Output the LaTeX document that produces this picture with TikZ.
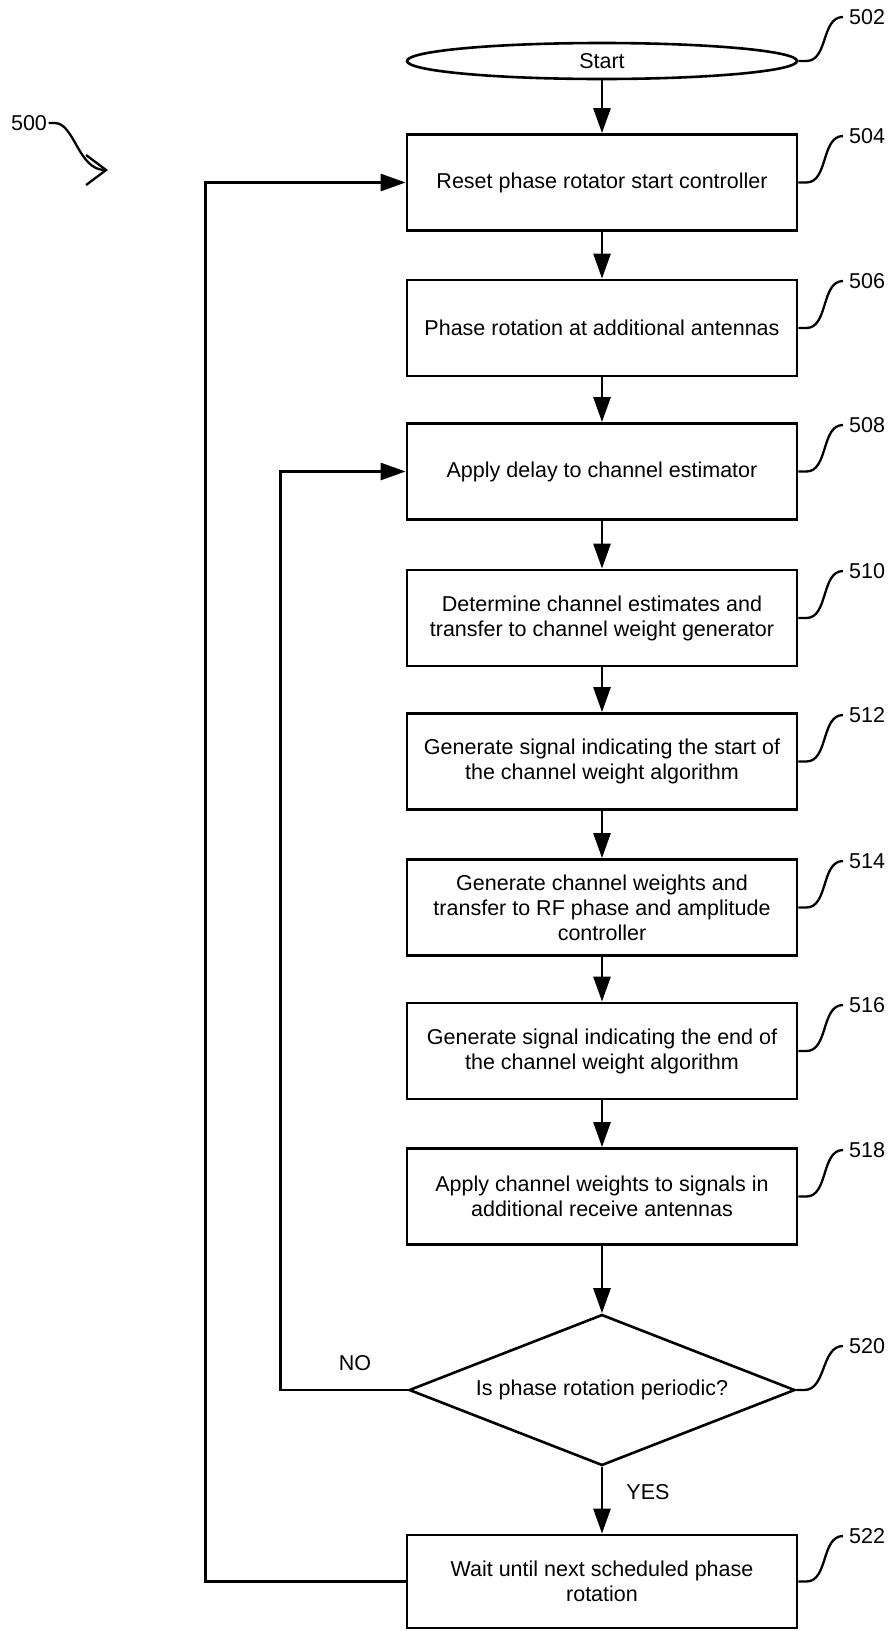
\documentclass[tikz,border=0pt]{standalone}
\usepackage{fontspec}
\setmainfont{Liberation Sans}
\usetikzlibrary{shapes.geometric,arrows.meta,calc}

\begin{document}
\begin{tikzpicture}[x=1pt,y=-1pt,
    every node/.style={font=\fontsize{21.5}{25}\selectfont},
    box/.style={draw,line width=2.8pt,minimum width=390pt,minimum height=96pt,align=center,inner sep=0pt},
    term/.style={draw,ellipse,line width=2.6pt,minimum width=390pt,minimum height=36pt,inner sep=0pt},
    decide/.style={draw,diamond,aspect=2.55,line width=2.6pt,minimum width=386pt,minimum height=151pt,inner sep=0pt},
    flow/.style={line width=2.7pt,-{Triangle[length=25pt,width=17pt]}},
    refnum/.style={anchor=west,inner xsep=6pt,inner ysep=0pt},
    squig/.style={line width=2.3pt}]
      \useasboundingbox (0,0) rectangle (890,1631);
      % steps
      \node[term] (start) at (602,61) {Start};
      \node[box] (reset) at (602,182.5) {Reset phase rotator start controller};
      \node[box] (rotate) at (602,328) {Phase rotation at additional antennas};
      \node[box] (delay) at (602,471.5) {Apply delay to channel estimator};
      \node[box] (estimate) at (602,618) {Determine channel estimates and\\transfer to channel weight generator};
      \node[box] (startsig) at (602,761.5) {Generate signal indicating the start of\\the channel weight algorithm};
      \node[box] (weights) at (602,907.5) {Generate channel weights and\\transfer to RF phase and amplitude\\controller};
      \node[box] (endsig) at (602,1051) {Generate signal indicating the end of\\the channel weight algorithm};
      \node[box] (apply) at (602,1196.5) {Apply channel weights to signals in\\additional receive antennas};
      \node[decide] (periodic) at (602,1390) {Is phase rotation periodic?};
      \node[box,minimum height=93pt] (wait) at (602,1581.5) {Wait until next scheduled phase\\rotation};
      % flow
      \draw[flow] (start.south) -- (reset.north);
      \draw[flow] (reset.south) -- (rotate.north);
      \draw[flow] (rotate.south) -- (delay.north);
      \draw[flow] (delay.south) -- (estimate.north);
      \draw[flow] (estimate.south) -- (startsig.north);
      \draw[flow] (startsig.south) -- (weights.north);
      \draw[flow] (weights.south) -- (endsig.north);
      \draw[flow] (endsig.south) -- (apply.north);
      \draw[flow] (apply.south) -- (periodic.north);
      \draw[flow] (periodic.south) -- (wait.north);
      \draw[flow] (periodic.west) -- ++(-127,0) |- (delay.west);
      \draw[flow] (wait.west) -- ++(-200,0) |- (reset.west);
      \node (no) at (355,1363) {NO};
      \node (yes) at (648,1492) {YES};
      % reference numerals
      \node[refnum] (l502) at (843,17) {502};
      \node[refnum] (l504) at (843,136) {504};
      \node[refnum] (l506) at (843,281) {506};
      \node[refnum] (l508) at (843,425) {508};
      \node[refnum] (l510) at (843,571) {510};
      \node[refnum] (l512) at (843,715) {512};
      \node[refnum] (l514) at (843,861) {514};
      \node[refnum] (l516) at (843,1005) {516};
      \node[refnum] (l518) at (843,1150) {518};
      \node[refnum] (l520) at (843,1346) {520};
      \node[refnum] (l522) at (843,1536) {522};
      \draw[squig] (start.east) -- ++(8,0) .. controls +(22,0) and +(-22,0) .. (l502.west);
      \draw[squig] (reset.east) -- ++(8,0) .. controls +(22,0) and +(-22,0) .. (l504.west);
      \draw[squig] (rotate.east) -- ++(8,0) .. controls +(22,0) and +(-22,0) .. (l506.west);
      \draw[squig] (delay.east) -- ++(8,0) .. controls +(22,0) and +(-22,0) .. (l508.west);
      \draw[squig] (estimate.east) -- ++(8,0) .. controls +(22,0) and +(-22,0) .. (l510.west);
      \draw[squig] (startsig.east) -- ++(8,0) .. controls +(22,0) and +(-22,0) .. (l512.west);
      \draw[squig] (weights.east) -- ++(8,0) .. controls +(22,0) and +(-22,0) .. (l514.west);
      \draw[squig] (endsig.east) -- ++(8,0) .. controls +(22,0) and +(-22,0) .. (l516.west);
      \draw[squig] (apply.east) -- ++(8,0) .. controls +(22,0) and +(-22,0) .. (l518.west);
      \draw[squig] (periodic.east) -- ++(8,0) .. controls +(22,0) and +(-22,0) .. (l520.west);
      \draw[squig] (wait.east) -- ++(8,0) .. controls +(22,0) and +(-22,0) .. (l522.west);
      % figure number
      \node[inner sep=1.5pt] (fig) at (29,123) {500};
      \coordinate (figtip) at (108,170);
      \draw[squig,-{Straight Barb[length=20pt,width=30pt]}] (fig.east) -- ++(6,0) .. controls +(20,0) and +(-30,0) .. (figtip);
    \end{tikzpicture}
\end{document}
